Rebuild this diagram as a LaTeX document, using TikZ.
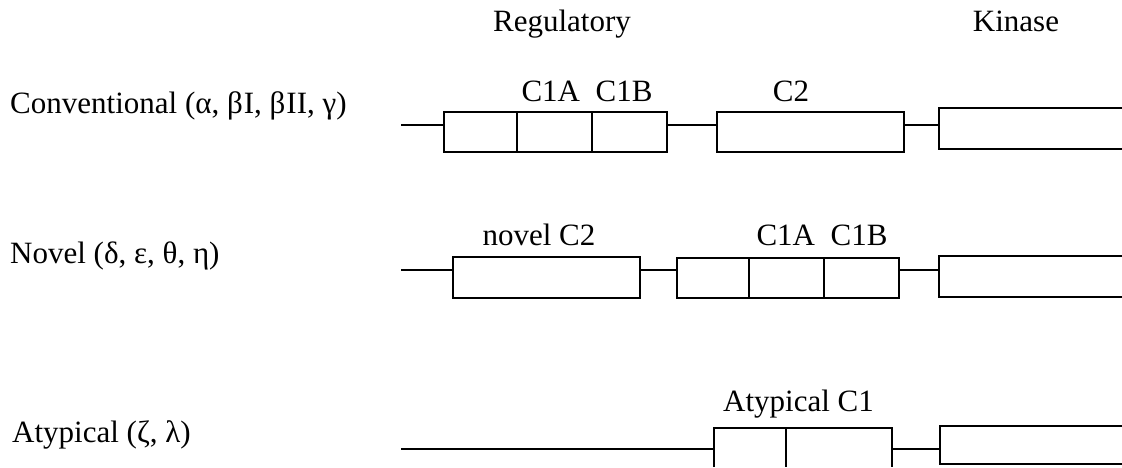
\documentclass[tikz,border=0pt]{standalone}
\usepackage{fontspec}
\setmainfont{Liberation Serif}
\tikzset{
  dom/.style={draw,rectangle,inner sep=0pt,anchor=north west,line width=1.8pt},
  lbl/.style={anchor=base,inner sep=0pt},
  row/.style={anchor=base west,inner sep=0pt},
  lnk/.style={line width=1.8pt},
}

\begin{document}
\begin{tikzpicture}[x=1pt,y=-1pt,font=\fontsize{31}{37}\selectfont]
  \useasboundingbox (0,0) rectangle (1122,467);
  % headings
  \node[lbl] (reg) at (562,31.7) {Regulatory};
  \node[lbl] (kin) at (1016,31.7) {Kinase};
  % row labels
  \node[row] (conv) at (10,113) {Conventional (α, β\kern1ptI, β\kern1ptII, γ)};
  \node[row] (nov) at (10,263) {Novel (δ, ε, θ, η)};
  \node[row] (atyp) at (12,442.3) {Atypical (ζ, λ)};

  % conventional
  \coordinate (s1) at (401,124.7);
  \node[dom,minimum width=72.7pt,minimum height=40.3pt] (cv0) at (443.3,111) {};
  \node[dom,minimum width=75pt,minimum height=40.3pt] (cva) at (516,111) {};
  \node[dom,minimum width=74.7pt,minimum height=40.3pt] (cvb) at (591,111) {};
  \node[dom,minimum width=187.6pt,minimum height=40.3pt] (cv2) at (715.7,111) {};
  \coordinate (k1t) at (1122,108.3);
  \coordinate (k1b) at (1122,149);
  \draw[lnk] (s1) -- (s1 -| cv0.west);
  \draw[lnk] (s1 -| cvb.east) -- (s1 -| cv2.west);
  \draw[lnk] (s1 -| cv2.east) -- (s1 -| 939.3,0);
  \draw[lnk] (k1t) -- (k1t -| 939.3,0) -- (k1b -| 939.3,0) -- (k1b);
  \node[lbl] (c1ab) at (587,101) {C1A\hspace{0.5em}C1B};
  \node[lbl] (c2) at (791,101) {C2};

  % novel
  \coordinate (s2) at (401,270);
  \node[dom,minimum width=187.6pt,minimum height=40.7pt] (nv2) at (451.7,256) {};
  \node[dom,minimum width=72pt,minimum height=39.7pt] (nv0) at (676,257.3) {};
  \node[dom,minimum width=75pt,minimum height=39.7pt] (nva) at (748,257.3) {};
  \node[dom,minimum width=75pt,minimum height=39.7pt] (nvb) at (823,257.3) {};
  \coordinate (k2t) at (1122,256);
  \coordinate (k2b) at (1122,297);
  \draw[lnk] (s2) -- (s2 -| nv2.west);
  \draw[lnk] (s2 -| nv2.east) -- (s2 -| nv0.west);
  \draw[lnk] (s2 -| nvb.east) -- (s2 -| 939.3,0);
  \draw[lnk] (k2t) -- (k2t -| 939.3,0) -- (k2b -| 939.3,0) -- (k2b);
  \node[lbl] (nc2) at (539,245) {novel C2};
  \node[lbl] (nc1) at (822,245) {C1A\hspace{0.5em}C1B};

  % atypical
  \coordinate (s3) at (401,449.3);
  \coordinate (a0) at (714,427.7);
  \coordinate (a1) at (785.7,427.7);
  \coordinate (a2) at (892.3,427.7);
  \coordinate (k3t) at (1122,425.7);
  \coordinate (k3b) at (1122,464.3);
  \draw[lnk] (s3) -- (s3 -| a0);
  \draw[lnk] (a0 |- 0,467) -- (a0) -- (a2) -- (a2 |- 0,467);
  \draw[lnk] (a1) -- (a1 |- 0,467);
  \draw[lnk] (s3 -| a2) -- (s3 -| 940,0);
  \draw[lnk] (k3t) -- (k3t -| 940,0) -- (k3b -| 940,0) -- (k3b);
  \node[lbl] (ac1) at (798.5,411.7) {Atypical C1};
\end{tikzpicture}
\end{document}
